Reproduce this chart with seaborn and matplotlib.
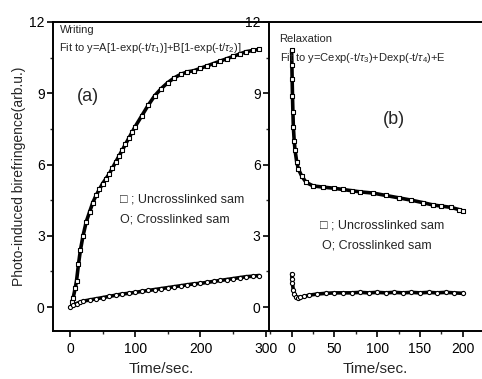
import numpy as np
import pandas as pd
import matplotlib
matplotlib.use("Agg")
import matplotlib.pyplot as plt
import seaborn as sns
from matplotlib.ticker import MultipleLocator

# ---- data ----
# (a) writing
t_wu = [3, 5, 8, 10, 13, 16, 20, 25, 30, 35, 40, 45, 50, 55, 60, 65, 70, 75, 80, 85,
        90, 95, 100, 110, 120, 130, 140, 150, 160, 170, 180, 190, 200, 210, 220, 230,
        240, 250, 260, 270, 280, 290]
y_wu = [0.2, 0.4, 0.8, 1.1, 1.8, 2.4, 3.0, 3.6, 4.0, 4.4, 4.7, 4.95, 5.2, 5.4, 5.6,
        5.85, 6.1, 6.35, 6.6, 6.85, 7.1, 7.35, 7.6, 8.05, 8.5, 8.9, 9.2, 9.45, 9.65, 9.8,
        9.9, 9.95, 10.05, 10.15, 10.25, 10.35, 10.45, 10.55, 10.65, 10.75, 10.8, 10.85]
t_wc = [0, 5, 10, 15, 20, 30, 40, 50, 60, 70, 80, 90, 100, 110, 120, 130, 140, 150,
        160, 170, 180, 190, 200, 210, 220, 230, 240, 250, 260, 270, 280, 290]
y_wc = [0.0, 0.08, 0.15, 0.2, 0.25, 0.3, 0.35, 0.4, 0.45, 0.5, 0.55, 0.58, 0.62, 0.66,
        0.7, 0.74, 0.78, 0.82, 0.86, 0.9, 0.94, 0.98, 1.0, 1.04, 1.08, 1.12, 1.16, 1.2,
        1.24, 1.28, 1.3, 1.33]

# (b) relaxation
t_ru = [0, 0.3, 0.6, 1, 1.5, 2, 3, 4, 6, 8, 12, 17, 25, 37, 50, 60, 70, 80, 95, 110,
        125, 140, 153, 165, 175, 186, 196, 200]
y_ru = [10.8, 10.2, 9.6, 8.9, 8.2, 7.6, 7.0, 6.6, 6.1, 5.8, 5.5, 5.25, 5.1, 5.05, 5.0,
        4.95, 4.9, 4.85, 4.8, 4.7, 4.6, 4.5, 4.4, 4.3, 4.25, 4.2, 4.1, 4.05]
t_rc = [0, 0.5, 1, 2, 3, 5, 8, 10, 15, 20, 30, 40, 50, 60, 70, 80, 90, 100, 110, 120,
        130, 140, 150, 160, 170, 180, 190, 200]
y_rc = [1.4, 1.2, 1.0, 0.7, 0.55, 0.42, 0.4, 0.42, 0.45, 0.5, 0.55, 0.58, 0.6, 0.6,
        0.6, 0.62, 0.6, 0.62, 0.6, 0.62, 0.6, 0.62, 0.6, 0.62, 0.6, 0.62, 0.6, 0.58]

sns.set_style("ticks")
plt.rcParams['font.family'] = ['Liberation Sans', 'DejaVu Sans']
plt.rcParams['mathtext.fontset'] = 'custom'
plt.rcParams['mathtext.rm'] = 'Liberation Sans'
plt.rcParams['mathtext.it'] = 'Liberation Sans:italic'

fig = plt.figure(figsize=(4.82, 3.79), dpi=100)
ax1 = fig.add_axes([0.110, 0.127, 0.448, 0.815])
ax2 = fig.add_axes([0.558, 0.127, 0.442, 0.815])


def draw(ax, t, y, marker):
    df = pd.DataFrame({"t": t, "y": y})
    sns.lineplot(data=df, x="t", y="y", ax=ax, color="black", lw=2.6)
    sns.scatterplot(data=df, x="t", y="y", ax=ax, marker=marker, s=9,
                    facecolor="white", edgecolor="black", linewidth=0.8, zorder=3)


draw(ax1, t_wu, y_wu, "s")
draw(ax1, t_wc, y_wc, "o")
draw(ax2, t_ru, y_ru, "s")
draw(ax2, t_rc, y_rc, "o")

ax1.set_xlim(-26, 305)
ax2.set_xlim(-26.5, 222.5)
for ax in (ax1, ax2):
    ax.set_ylim(-1, 12)
    ax.yaxis.set_major_locator(MultipleLocator(3))
    ax.yaxis.set_minor_locator(MultipleLocator(1.5))
    ax.tick_params(axis="both", which="major", direction="out", length=4, width=1.2,
                   labelsize=10, colors="black")
    ax.tick_params(axis="both", which="minor", direction="out", length=2, width=1)
    ax.tick_params(axis="x", pad=4)
    ax.tick_params(axis="y", pad=2)
    for s in ax.spines.values():
        s.set_linewidth(1.4)
        s.set_color("black")
    ax.spines["right"].set_visible(False)
    ax.set_xlabel("Time/sec.", fontsize=11, labelpad=4)
    ax.set_ylabel("")
    ax.patch.set_alpha(0)

ax1.xaxis.set_major_locator(MultipleLocator(100))
ax1.xaxis.set_minor_locator(MultipleLocator(50))
ax2.xaxis.set_major_locator(MultipleLocator(50))
ax2.xaxis.set_minor_locator(MultipleLocator(25))

ax1.set_ylabel("Photo-induced birefringence(arb.u.)", fontsize=10, labelpad=2)

# panel texts
ax1.text(0.03, 0.99, "Writing", transform=ax1.transAxes, fontsize=8, va="top")
ax1.text(0.03, 0.94, r"Fit to y=A[1-exp(-t/$\tau_1$)]+B[1-exp(-t/$\tau_2$)]",
         transform=ax1.transAxes, fontsize=8, va="top")
ax1.text(0.16, 0.76, "(a)", transform=ax1.transAxes, fontsize=13, ha="center", va="center")
ax1.text(0.31, 0.425, "□ ; Uncrosslinked sam", transform=ax1.transAxes, fontsize=9,
         va="center")
ax1.text(0.31, 0.36, "O; Crosslinked sam", transform=ax1.transAxes, fontsize=9,
         va="center")

ax2.text(0.05, 0.96, "Relaxation", transform=ax2.transAxes, fontsize=8, va="top")
ax2.text(0.05, 0.905, r"Fit to y=Cexp(-t/$\tau_3$)+Dexp(-t/$\tau_4$)+E",
         transform=ax2.transAxes, fontsize=8, va="top")
ax2.text(0.585, 0.685, "(b)", transform=ax2.transAxes, fontsize=13, ha="center",
         va="center")
ax2.text(0.24, 0.34, "□ ; Uncrosslinked sam", transform=ax2.transAxes, fontsize=9,
         va="center")
ax2.text(0.25, 0.275, "O; Crosslinked sam", transform=ax2.transAxes, fontsize=9,
         va="center")

fig.savefig("out.png", dpi=100)
